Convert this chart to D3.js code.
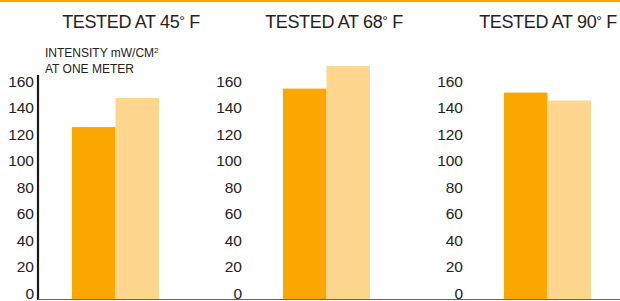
<!DOCTYPE html>
<html>
<head>
<meta charset="utf-8">
<script src="https://cdn.jsdelivr.net/npm/d3@7"></script>
<style>
  html, body { margin: 0; padding: 0; background: #fff; }
  svg { display: block; font-family: "Liberation Sans", Arial, sans-serif; }
</style>
</head>
<body>
<svg id="chart" width="620" height="301"></svg>
<script>
// data
var temps = ['45', '68', '90'];
var series = ['a', 'b'];
var darkVals = [130, 159, 156];
var lightVals = [152, 176, 150];
var tickVals = [0, 20, 40, 60, 80, 100, 120, 140, 160];

var colors = { a: '#fca700', b: '#fed68e' };

// hand-laid panel layout (bars left/right, tick labels right edge, title centre)
var panels = [
  { tickRight: 34, barL: 72, barR: 159, title: 131 },
  { tickRight: 242, barL: 283, barR: 370, title: 334 },
  { tickRight: 463, barL: 504, barR: 591, title: 548 }
];

var svg = d3.select('#chart');

// orange rule across the top
svg.append('rect')
  .attr('x', 0).attr('y', 0)
  .attr('width', 620).attr('height', 2)
  .attr('fill', '#f7a800');

var y = d3.scaleLinear()
  .domain([0, 160])
  .range([299.3, 87.3]);

temps.forEach(function(t, i) {
  var p = panels[i];
  var g = svg.append('g').attr('class', 'panel');

  var x = d3.scaleBand()
    .domain(series)
    .range([p.barL, p.barR])
    .padding(0);

  var rows = [
    { key: 'a', val: darkVals[i] },
    { key: 'b', val: lightVals[i] }
  ];

  g.selectAll('rect.bar').data(rows)
    .enter().append('rect')
    .attr('class', 'bar')
    .attr('x', function(d) { return x(d.key); })
    .attr('width', x.bandwidth())
    .attr('y', function(d) { return y(d.val); })
    .attr('height', function(d) { return y(0) - y(d.val); })
    .attr('fill', function(d) { return colors[d.key]; });

  var axis = d3.axisLeft(y)
    .tickValues(tickVals)
    .tickSize(0)
    .tickPadding(0);

  var ax = g.append('g')
    .attr('transform', 'translate(' + p.tickRight + ',0)')
    .call(axis);
  ax.select('.domain').remove();
  ax.selectAll('text')
    .attr('dy', '-1px')
    .attr('fill', '#222')
    .style('font-size', '15.5px')
    .style('font-family', '"Liberation Sans", Arial, sans-serif');

  var title = g.append('text')
    .attr('x', p.title)
    .attr('y', 28)
    .attr('text-anchor', 'middle')
    .attr('fill', '#222')
    .style('font-size', '18px')
    .style('letter-spacing', '-0.35px');
  title.append('tspan').text('TESTED AT ' + t);
  title.append('tspan').text('°').style('font-size', '14px').attr('dy', '-2');
  title.append('tspan').text(' F').attr('dy', '2');
});

// y axis line on the first panel only
svg.append('line')
  .attr('x1', 38).attr('x2', 38)
  .attr('y1', 75).attr('y2', 300)
  .attr('stroke', '#1a1a1a')
  .attr('stroke-width', 2.2);

// baseline
svg.append('line')
  .attr('x1', 38).attr('x2', 620)
  .attr('y1', 299.5).attr('y2', 299.5)
  .attr('stroke', '#666')
  .attr('stroke-width', 1.2);

// unit note
var note = svg.append('text')
  .attr('x', 45).attr('y', 57)
  .attr('fill', '#222')
  .style('font-size', '12px');
note.append('tspan').text('INTENSITY mW/CM');
note.append('tspan').text('2').style('font-size', '8px').attr('dy', '-4');
svg.append('text')
  .attr('x', 45).attr('y', 73)
  .attr('fill', '#222')
  .style('font-size', '12px')
  .text('AT ONE METER');
</script>
</body>
</html>
